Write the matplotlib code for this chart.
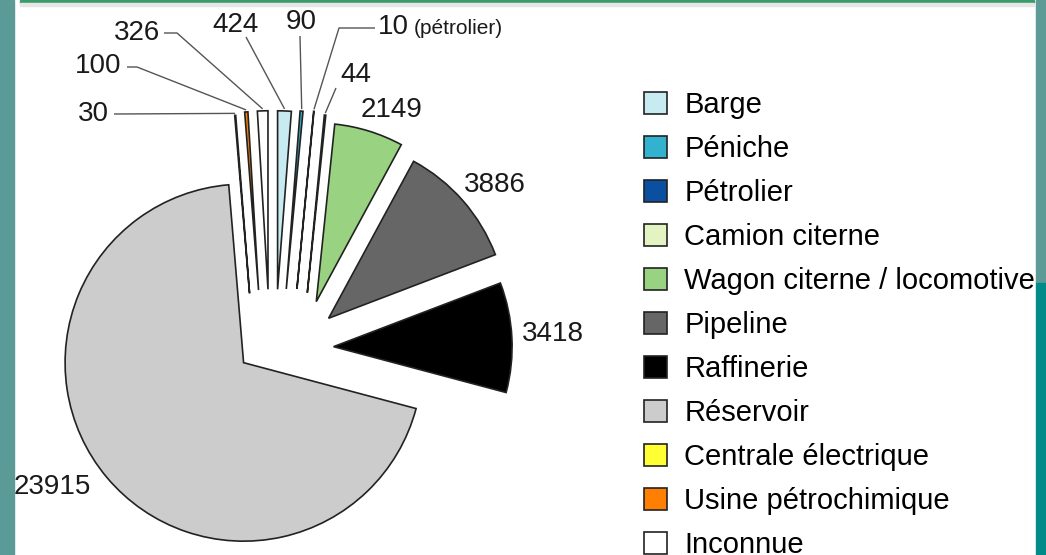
import matplotlib.pyplot as plt
import matplotlib.patches as mpatches
import numpy as np

plt.rcParams['font.family'] = ['Liberation Sans', 'DejaVu Sans']

categories = ['Barge', 'Péniche', 'Pétrolier', 'Camion citerne',
              'Wagon citerne / locomotive', 'Pipeline', 'Raffinerie',
              'Réservoir', 'Centrale électrique', 'Usine pétrochimique',
              'Inconnue']
counts = [424, 90, 10, 44, 2149, 3886, 3418, 23915, 30, 100, 326]
colors = ['#c8eaf1', '#33b2cf', '#0b4fa0', '#e3f4c2', '#99d280', '#666666',
          '#000000', '#cccccc', '#ffff33', '#ff7f00', '#ffffff']

W, H = 1046, 555
R = 178.5
center = (258, H - 350.6)
# slices were pulled apart by hand in the original: radial + sideways shift (px)
explode = [62, 63.8, 65, 62.5, 64, 74.4, 75.7, 18.8, 57.8, 60.4, 61]
sideways = [-17.2, -22.9, -32.9, -43.3, -41.2, -22.2, 0, 0, 3.8, -4.7, -11.8]

fig = plt.figure(figsize=(W / 100, H / 100), dpi=100)
ax = fig.add_axes([0, 0, 1, 1])

wedges, _ = ax.pie(counts, explode=explode, colors=colors, startangle=90,
                   counterclock=False, radius=R, center=center,
                   wedgeprops=dict(edgecolor='#222222', linewidth=1.2))

def outer_point(w, extra=2):
    m = np.deg2rad((w.theta1 + w.theta2) / 2)
    cx, cy = w.center
    return cx + (w.r + extra) * np.cos(m), cy + (w.r + extra) * np.sin(m)

for w, s in zip(wedges, sideways):
    m = np.deg2rad((w.theta1 + w.theta2) / 2)
    cx, cy = w.center
    w.set_center((cx - s * np.sin(m), cy + s * np.cos(m)))

ax.set_xlim(0, W)
ax.set_ylim(0, H)
ax.set_aspect('equal')
ax.axis('off')

# labels: (x, y, ha) in picture pixels, leader path start points
label_pos = {
    0: (236, 25, 'center'), 1: (301, 22, 'center'), 2: (378, 27, 'left'),
    3: (356, 75, 'center'), 4: (392, 110, 'center'), 5: (495, 185, 'center'),
    6: (553, 334, 'center'), 7: (52, 487, 'center'), 8: (109, 114, 'right'),
    9: (121, 66, 'right'), 10: (160, 33, 'right'),
}
leaders = {
    0: [(246, 37)], 1: [(300, 36)], 2: [(375, 28), (339, 28)],
    3: [(336, 88)], 8: [(114, 114)], 9: [(127, 67), (137, 67)],
    10: [(164, 33), (177, 33)],
}

for i, (x, y, ha) in label_pos.items():
    ax.text(x, H - y, str(counts[i]), ha=ha, va='center', fontsize=20,
            color='#1a1a1a')
    if i in leaders:
        pts = [(px, H - py) for px, py in leaders[i]] + [outer_point(wedges[i])]
        xs, ys = zip(*pts)
        ax.plot(xs, ys, color='#555555', lw=1.0, solid_capstyle='butt')

ax.text(414, H - 28, '(pétrolier)', ha='left', va='center', fontsize=15,
        color='#1a1a1a')

ax.legend(wedges, categories, loc='upper left',
          bbox_to_anchor=(644 / W, (H - 91) / H), frameon=False,
          fontsize=21, handlelength=0.78, handleheight=0.78,
          handletextpad=0.6, labelspacing=0.548, borderpad=0,
          borderaxespad=0)

# slide frame
ax.add_patch(mpatches.Rectangle((0, 0), 14, H, color='#5b9b97', zorder=0))
ax.add_patch(mpatches.Rectangle((1036, H - 283), 10, 283, color='#5e9a96', zorder=0))
ax.add_patch(mpatches.Rectangle((1036, 0), 10, H - 283, color='#008b89', zorder=0))
ax.add_patch(mpatches.Rectangle((20, H - 3), 1014, 3, color='#3b9b6b', zorder=0))
ax.add_patch(mpatches.Rectangle((20, H - 6), 1014, 3, color='#e6e6e6', zorder=0))

fig.savefig('out.png', dpi=100)
